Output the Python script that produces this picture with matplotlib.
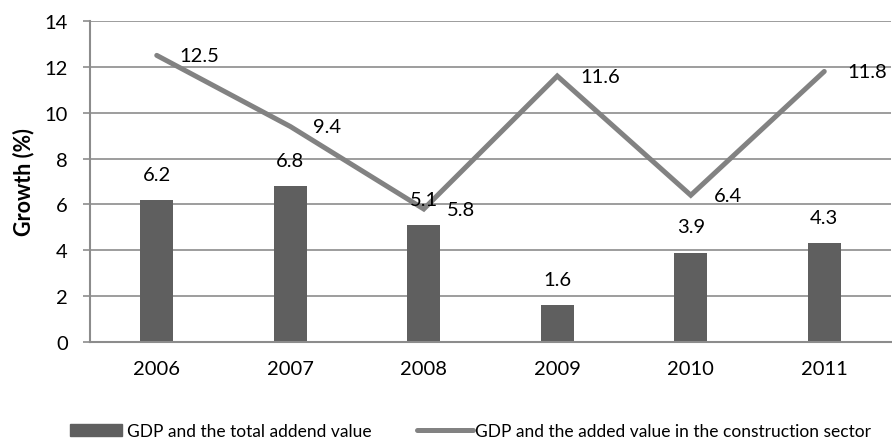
import matplotlib.pyplot as plt
import matplotlib
from matplotlib.patches import Patch
from matplotlib.lines import Line2D
import numpy as np

matplotlib.rcParams['font.family'] = ['Lato', 'DejaVu Sans']

# ! -------------
# ! Data
years = ['2006', '2007', '2008', '2009', '2010', '2011']
gdp_total = [6.2, 6.8, 5.1, 1.6, 3.9, 4.3]
gdp_construction = [12.5, 9.4, 5.8, 11.6, 6.4, 11.8]

bar_color = '#5f5f5f'
line_color = '#828282'
grid_color = '#8c8c8c'

# ! -------------
# ! Figure
fig = plt.figure(figsize=(8.92, 4.39), dpi=100)
ax = fig.add_axes([0.1009, 0.2187, 0.898, 0.7312])

x = np.arange(len(years))
bars = ax.bar(x, gdp_total, width=0.25, color=bar_color, zorder=2)
ax.plot(x, gdp_construction, color=line_color, lw=3.6, solid_capstyle='round',
        solid_joinstyle='miter', zorder=3)

# value labels
for xi, v in zip(x, gdp_total):
    ax.annotate(f'{v:.1f}', (xi, v), xytext=(0, 18.5), textcoords='offset points',
                ha='center', va='center', fontsize=14.5, zorder=4)
for xi, v in zip(x, gdp_construction):
    ax.annotate(f'{v:.1f}', (xi, v), xytext=(16.5, 0), textcoords='offset points',
                ha='left', va='center', fontsize=14.5, zorder=4, annotation_clip=False)

ax.set_xlim(-0.5, len(years) - 0.5)
ax.set_ylim(0, 14)
ax.set_yticks(np.arange(0, 15, 2))
ax.set_xticks(x)
ax.set_xticklabels(years)
ax.yaxis.grid(True, color=grid_color, lw=1.2, zorder=0)
ax.set_axisbelow(True)

for side in ['top', 'right']:
    ax.spines[side].set_visible(False)
for side in ['left', 'bottom']:
    ax.spines[side].set_color(grid_color)
    ax.spines[side].set_linewidth(1.5)

ax.tick_params(axis='y', length=5, width=1.2, color=grid_color, pad=11, labelsize=14.5)
ax.tick_params(axis='x', length=0, pad=13, labelsize=14.5)
ax.set_ylabel('Growth (%)', fontsize=15.5, fontweight='bold', labelpad=7)

# ! -------------
# ! Legend, one entry each (fig.legend keeps both)
leg_y = 1 - 432 / 439
fig.legend([Patch(color=bar_color)], ['GDP and the total addend value'],
           loc='center left', bbox_to_anchor=(70 / 892, leg_y),
           frameon=False, fontsize=12.5, handlelength=3.0, handleheight=0.7,
           handletextpad=0.3, borderpad=0, borderaxespad=0)
fig.legend([Line2D([], [], color=line_color, lw=3.6, solid_capstyle='round')],
           ['GDP and the added value in the construction sector'],
           loc='center left', bbox_to_anchor=(417 / 892, leg_y),
           frameon=False, fontsize=12.5, handlelength=3.2,
           handletextpad=0.15, borderpad=0, borderaxespad=0)

plt.savefig('out.png', dpi=100)
